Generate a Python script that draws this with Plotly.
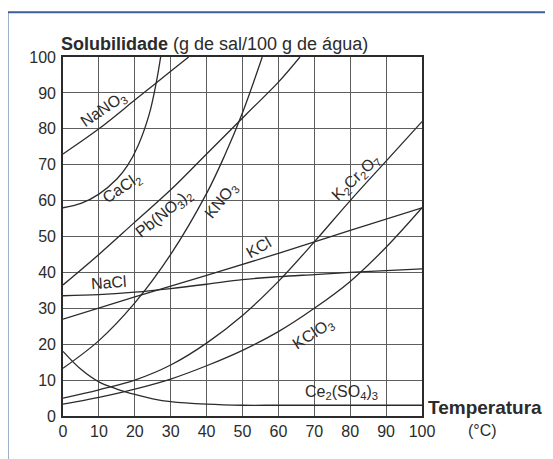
import plotly.graph_objects as go

# ---- data (temperature °C, solubility g/100 g water) ----
nano3_t = [0, 10, 20, 25, 30, 35]
nano3_s = [73, 80, 88, 92, 96, 100]

cacl2_t = [0, 5, 10, 15, 18, 21, 24, 26, 27.2]
cacl2_s = [58, 59.2, 61.8, 66, 69.8, 75.5, 84, 93, 100]

pbno3_t = [0, 10, 20, 30, 40, 51, 60, 66]
pbno3_s = [36.5, 45, 54, 63, 73, 84, 93, 100]

kno3_t = [0, 10, 20, 30, 40, 45, 50, 55.5]
kno3_s = [13.3, 21, 31.5, 45, 62, 72.5, 84.5, 100]

kcl_t = [0, 20, 40, 60, 80, 100]
kcl_s = [27, 33.2, 39.2, 45.3, 51.7, 58]

nacl_t = [0, 10, 20, 30, 40, 50, 60, 70, 80, 90, 100]
nacl_s = [33.5, 33.8, 34.5, 35.5, 36.7, 38, 38.8, 39.4, 40, 40.5, 41]

k2cr2o7_t = [0, 10, 20, 30, 40, 50, 60, 70, 80, 90, 100]
k2cr2o7_s = [5, 7.3, 10, 14.2, 20.3, 28, 37.5, 48.5, 60, 71, 82]

kclo3_t = [0, 10, 20, 30, 40, 50, 60, 70, 80, 90, 100]
kclo3_s = [3.3, 5.2, 7.5, 10.3, 14, 18.3, 23.5, 30, 37.5, 47, 58]

ce_t = [0, 5, 10, 15, 20, 25, 30, 40, 50, 60, 80, 100]
ce_s = [18, 13, 9.5, 7.5, 6, 4.8, 4, 3.3, 3, 3, 3, 3]

x_ticks = [0, 10, 20, 30, 40, 50, 60, 70, 80, 90, 100]
y_ticks = [0, 10, 20, 30, 40, 50, 60, 70, 80, 90, 100]

series = [
    (nano3_t, nano3_s), (cacl2_t, cacl2_s), (pbno3_t, pbno3_s),
    (kno3_t, kno3_s), (kcl_t, kcl_s), (nacl_t, nacl_s),
    (k2cr2o7_t, k2cr2o7_s), (kclo3_t, kclo3_s), (ce_t, ce_s),
]

# curve labels: (text, T, S, angle)
labels = [
    ("NaNO<sub>3</sub>", 11.3, 85.5, -34),
    ("CaCl<sub>2</sub>", 16.3, 63.5, -34),
    ("Pb(NO<sub>3</sub>)<sub>2</sub>", 28.3, 56.3, -39),
    ("KNO<sub>3</sub>", 44.2, 60, -51),
    ("KCl", 54.5, 46.8, -30),
    ("NaCl", 12.7, 37.2, -4),
    ("K<sub>2</sub>Cr<sub>2</sub>O<sub>7</sub>", 81.8, 66.3, -44),
    ("KClO<sub>3</sub>", 69.5, 22.8, -33),
    ("Ce<sub>2</sub>(SO<sub>4</sub>)<sub>3</sub>", 77.5, 6.6, 0),
]

FONT = "Liberation Sans, Arial, sans-serif"
INK = "#2b2b2b"

fig = go.Figure()
for t, s in series:
    fig.add_trace(go.Scatter(x=t, y=s, mode="lines",
                             line=dict(color=INK, width=1.3, shape="spline", smoothing=1.0),
                             hoverinfo="skip", showlegend=False))

annotations = []
for text, t, s, ang in labels:
    annotations.append(dict(x=t, y=s, xref="x", yref="y", text=text, showarrow=False,
                            textangle=ang, font=dict(family=FONT, size=16, color=INK)))

annotations += [
    dict(x=-0.0125, y=1.036, xref="paper", yref="paper", xanchor="left", yanchor="middle",
         text="<b>Solubilidade</b> (g de sal/100 g de água)", showarrow=False,
         font=dict(family=FONT, size=18, color=INK)),
    dict(x=1.0125, y=0.025, xref="paper", yref="paper", xanchor="left", yanchor="middle",
         text="<b>Temperatura</b>", showarrow=False,
         font=dict(family=FONT, size=19, color=INK)),
    dict(x=1.168, y=-0.039, xref="paper", yref="paper", xanchor="center", yanchor="middle",
         text="(°C)", showarrow=False,
         font=dict(family=FONT, size=16, color=INK)),
]

fig.update_layout(
    width=545, height=451,
    margin=dict(l=55, r=131, t=49, b=43, pad=0),
    paper_bgcolor="white", plot_bgcolor="white",
    showlegend=False,
    annotations=annotations,
    shapes=[dict(type="rect", xref="paper", yref="paper",
                 x0=-0.1546, y0=-0.5, x1=2.0, y1=1.125,
                 line=dict(color="#3d5f99", width=2), layer="below")],
    xaxis=dict(range=[0, 100], tickvals=x_ticks, ticktext=[str(v) for v in x_ticks],
               showgrid=True, gridcolor="#5e5e5e", gridwidth=1.1,
               showline=True, mirror=True, linecolor=INK, linewidth=1.6,
               zeroline=False, ticks="", automargin=False,
               tickfont=dict(family=FONT, size=16, color=INK)),
    yaxis=dict(range=[0, 100], tickvals=y_ticks, ticktext=[str(v) for v in y_ticks],
               showgrid=True, gridcolor="#5e5e5e", gridwidth=1.1,
               showline=True, mirror=True, linecolor=INK, linewidth=1.6,
               zeroline=False, ticks="", ticklabelstandoff=2, automargin=False,
               tickfont=dict(family=FONT, size=16, color=INK)),
)

fig.write_html("out.html")
